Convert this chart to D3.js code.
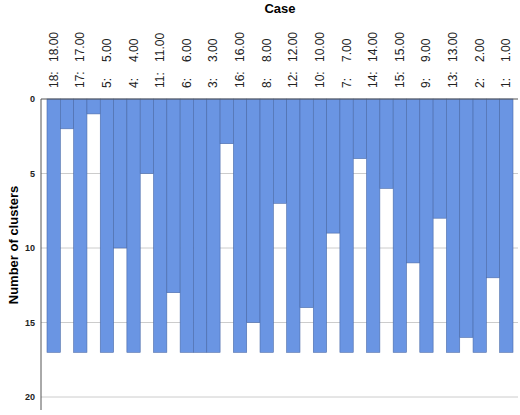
<!DOCTYPE html>
<html><head><meta charset="utf-8">
<script src="https://cdn.jsdelivr.net/npm/d3@7"></script>
<style>body{margin:0;background:#fff;font-family:Arial,"Liberation Sans",sans-serif}</style>
</head><body>
<script>
// case order along the icicle
var cases = [18, 17, 5, 4, 11, 6, 3, 16, 8, 12, 10, 7, 14, 15, 9, 13, 2, 1];
// cluster count at which neighbouring cases are joined
var joins = [2, 1, 10, 5, 13, 17, 3, 15, 7, 14, 9, 4, 6, 11, 8, 16, 12];
var yTicks = [0, 5, 10, 15, 20];
var maxClusters = 17;

var width = 520, height = 415;
var svg = d3.select("body").append("svg").attr("width", width).attr("height", height);

var cols = [];
cases.forEach(function(c, i) {
  cols.push({key: "c" + i, v: maxClusters, label: c});
  if (i < joins.length) cols.push({key: "g" + i, v: joins[i]});
});

var x = d3.scaleBand().domain(cols.map(function(d) { return d.key; })).range([47, 513]);
var y = d3.scaleLinear().domain([0, 20]).range([99, 397]);

// grid
svg.append("g").selectAll("line").data(yTicks.slice(1)).enter().append("line")
  .attr("x1", 41).attr("x2", 518)
  .attr("y1", function(d) { return y(d); }).attr("y2", function(d) { return y(d); })
  .attr("stroke", "#cccccc").attr("stroke-width", 1);

svg.append("g").selectAll("rect").data(cols).enter().append("rect")
  .attr("x", function(d) { return x(d.key); })
  .attr("y", y(0))
  .attr("width", x.bandwidth())
  .attr("height", function(d) { return y(d.v) - y(0); })
  .attr("fill", "#6a95e3").attr("stroke", "#4a6aa8").attr("stroke-width", 0.6);

// frame
svg.append("line").attr("x1", 41).attr("x2", 518).attr("y1", y(0)).attr("y2", y(0)).attr("stroke", "#555");
svg.append("line").attr("x1", 41).attr("x2", 41).attr("y1", y(0)).attr("y2", 410).attr("stroke", "#555");

var ax = d3.axisLeft(y).tickValues(yTicks).tickSize(0).tickPadding(6);
var g = svg.append("g").attr("transform", "translate(41,0)").call(ax);
g.select(".domain").remove();
g.selectAll("text").attr("font-size", 9).attr("font-weight", "bold").attr("fill", "#222");

// case labels
var labs = svg.append("g").selectAll("g").data(cols.filter(function(d) { return d.label; })).enter().append("g")
  .attr("transform", function(d) { return "translate(" + (x(d.key) + x.bandwidth() / 2 + 4) + ",0)"; });
labs.append("text").attr("transform", "translate(0,88) rotate(-90)")
  .attr("font-size", 12).attr("fill", "#222").text(function(d) { return d.label + ":"; });
labs.append("text").attr("transform", "translate(0,62) rotate(-90)")
  .attr("font-size", 12).attr("fill", "#222").text(function(d) { return d.label + ".00"; });

svg.append("text").attr("x", 280).attr("y", 13).attr("text-anchor", "middle")
  .attr("font-size", 13).attr("font-weight", "bold").text("Case");
svg.append("text").attr("transform", "translate(18,245) rotate(-90)").attr("text-anchor", "middle")
  .attr("font-size", 13).attr("font-weight", "bold").text("Number of clusters");
</script>
</body></html>
